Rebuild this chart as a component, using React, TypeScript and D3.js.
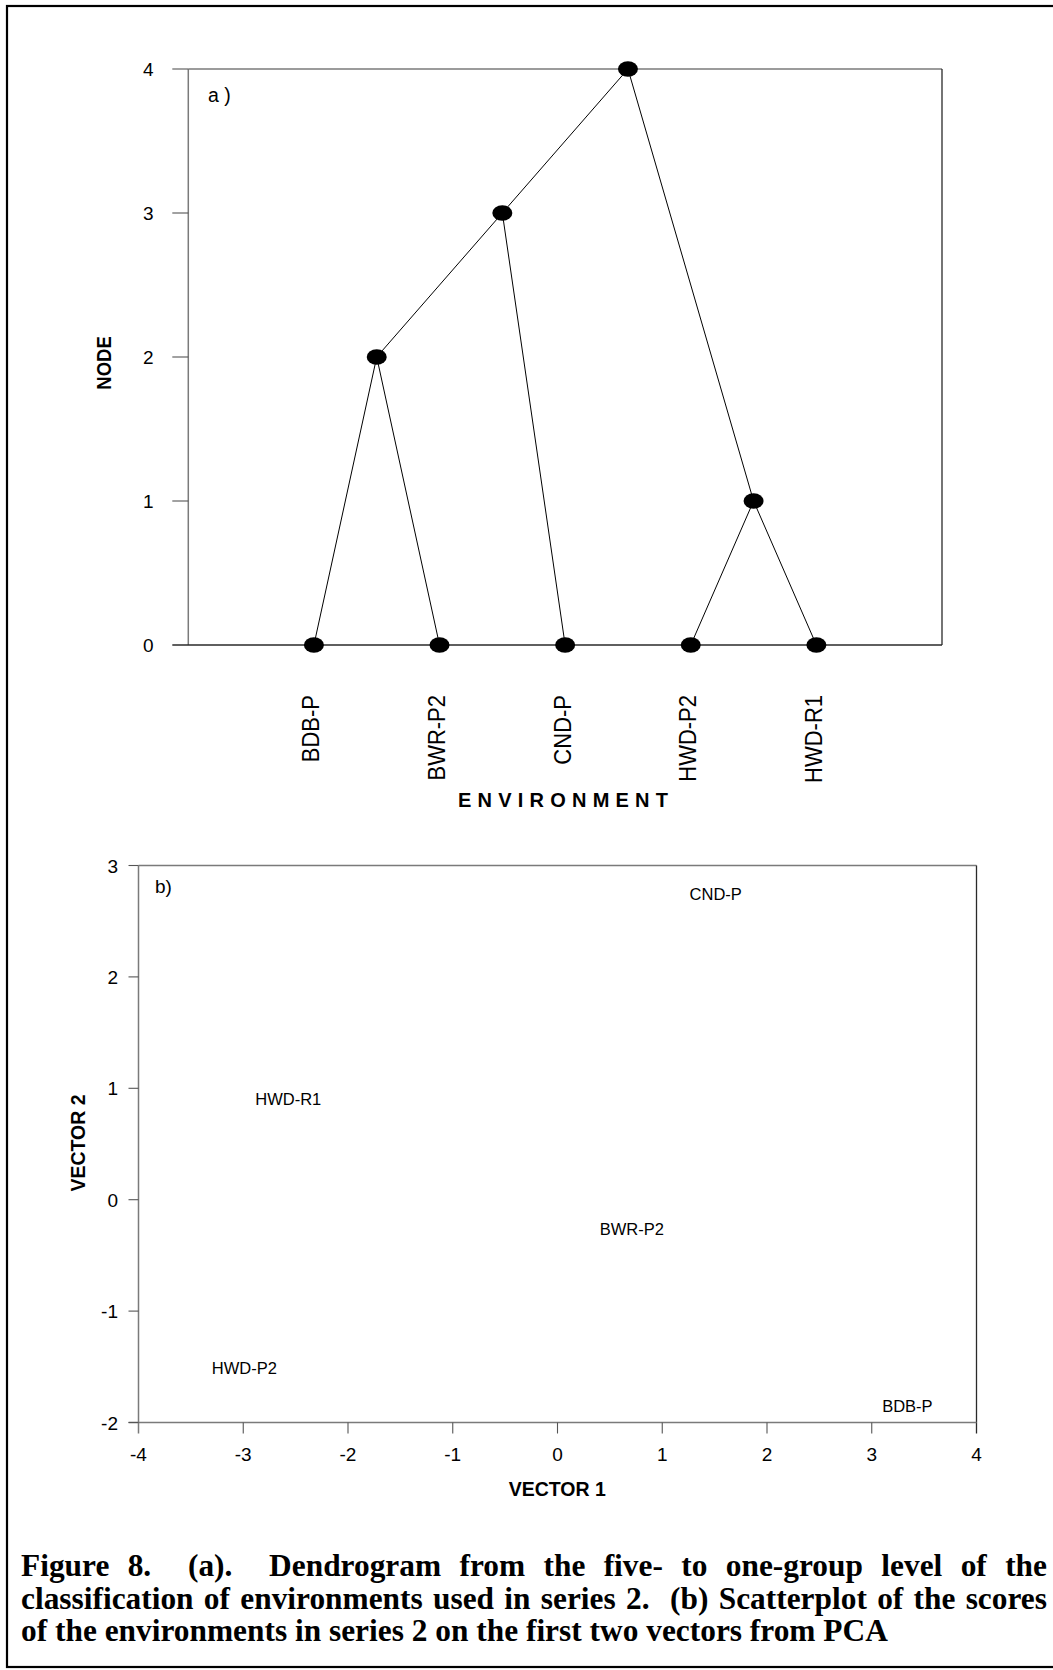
import React, { useEffect, useRef } from "react";
import * as d3 from "d3";

// Dendrogram (panel a): leaves sit on level 0, merge nodes above them
const leafNames = ["BDB-P", "BWR-P2", "CND-P", "HWD-P2", "HWD-R1"];
const leafX = [1, 2, 3, 4, 5];
const nodeNames = ["1", "2", "3", "4"];
const nodeLevel = [1, 2, 3, 4];
const nodeX = [4.5, 1.5, 2.5, 3.5];
const nodeChildren = [
  ["HWD-P2", "HWD-R1"],
  ["BDB-P", "BWR-P2"],
  ["2", "CND-P"],
  ["3", "1"],
];
const nodeTicks = [0, 1, 2, 3, 4];

// PCA scores (panel b)
const pcaNames = ["CND-P", "HWD-R1", "BWR-P2", "HWD-P2", "BDB-P"];
const vector1 = [1.51, -2.57, 0.71, -2.99, 3.34];
const vector2 = [2.74, 0.9, -0.26, -1.51, -1.85];
const vector1Ticks = [-4, -3, -2, -1, 0, 1, 2, 3, 4];
const vector2Ticks = [-2, -1, 0, 1, 2, 3];

const captionLines = [
  "Figure 8.  (a).  Dendrogram from the five- to one-group level of the",
  "classification of environments used in series 2.  (b) Scatterplot of the scores",
  "of the environments in series 2 on the first two vectors from PCA",
];

const SANS = "'Liberation Sans', Arial, sans-serif";
const SERIF = "'Liberation Serif', 'Times New Roman', serif";
const AXIS_GREY = "#7a7a7a";
const FRAME_DARK = "#2a2a2a";

export default function App() {
  const W = 1053;
  const H = 1670;
  const captionRefs = useRef<(SVGTextElement | null)[]>([]);

  const xA = d3.scaleLinear().domain([0, 6]).range([188.3, 942]);
  const yA = d3.scaleLinear().domain([0, 4]).range([645, 69]);
  const xB = d3.scaleLinear().domain([-4, 4]).range([138.5, 976.5]);
  const yB = d3.scaleLinear().domain([-2, 3]).range([1422.5, 865.5]);

  const pos = new Map<string, [number, number]>();
  leafNames.forEach((n, i) => pos.set(n, [xA(leafX[i]), yA(0)]));
  nodeNames.forEach((n, i) => pos.set(n, [xA(nodeX[i]), yA(nodeLevel[i])]));

  const edges: [number, number, number, number][] = [];
  nodeNames.forEach((n, i) => {
    const [px, py] = pos.get(n)!;
    nodeChildren[i].forEach((c) => {
      const [cx, cy] = pos.get(c)!;
      edges.push([px, py, cx, cy]);
    });
  });

  const captionLeft = 21;
  const captionBaselines = [1576, 1608.5, 1641];

  // Caption: fit the last line to its column width and justify lines 1 and 2
  useEffect(() => {
    const els = captionRefs.current;
    if (!els[2]) return;
    const fullWidth = 1026;
    const lastWidth = 867;
    const w3 = els[2]!.getComputedTextLength();
    const k = lastWidth / w3;
    els.forEach((el, i) => {
      if (!el) return;
      el.setAttribute("transform", `translate(${captionLeft},${captionBaselines[i]}) scale(${k},1)`);
      if (i < 2) {
        const natural = el.getComputedTextLength();
        const gaps = (captionLines[i].match(/ /g) || []).length;
        const ws = (fullWidth / k - natural) / gaps;
        el.style.wordSpacing = `${ws}px`;
      }
    });
  }, []);

  const leafLabelY = 695;
  const stretch = 1.12;

  return (
    <svg
      width={W}
      height={H}
      viewBox={`0 0 ${W} ${H}`}
      style={{ position: "absolute", left: 0, top: 0, background: "#fff" }}
    >
      <rect x={0} y={0} width={W} height={H} fill="#fff" />
      {/* page frame */}
      <rect x={7} y={6} width={W + 20} height={1661} fill="none" stroke="#000" strokeWidth={2.2} />

      {/* ---------- panel a ---------- */}
      <line x1={xA(0)} y1={yA(4)} x2={xA(6)} y2={yA(4)} stroke={AXIS_GREY} strokeWidth={1.3} />
      <line x1={xA(6)} y1={yA(4)} x2={xA(6)} y2={yA(0)} stroke={FRAME_DARK} strokeWidth={1.3} />
      <line x1={xA(0)} y1={yA(4)} x2={xA(0)} y2={yA(0)} stroke={AXIS_GREY} strokeWidth={1.5} />
      <line x1={xA(0) - 16} y1={yA(0)} x2={xA(6)} y2={yA(0)} stroke={FRAME_DARK} strokeWidth={1.3} />
      {nodeTicks.map((t) => (
        <g key={`ta${t}`}>
          {t > 0 && (
            <line x1={xA(0) - 16} y1={yA(t)} x2={xA(0)} y2={yA(t)} stroke="#555" strokeWidth={1.1} />
          )}
          <text x={153.5} y={yA(t) + 7} textAnchor="end" fontFamily={SANS} fontSize={19} fill="#000">
            {t}
          </text>
        </g>
      ))}
      <text x={208} y={102} fontFamily={SANS} fontSize={19.5} fill="#000" style={{ whiteSpace: "pre" }}>
        {"a )"}
      </text>

      {edges.map(([x1, y1, x2, y2], i) => (
        <line key={`e${i}`} x1={x1} y1={y1} x2={x2} y2={y2} stroke="#000" strokeWidth={1} />
      ))}
      {Array.from(pos.entries()).map(([n, [cx, cy]]) => (
        <ellipse key={`n${n}`} cx={cx} cy={cy} rx={10} ry={7.8} fill="#000" />
      ))}

      {leafNames.map((n, i) => (
        <text
          key={`ll${n}`}
          transform={`translate(${xA(leafX[i]) + 5.5},${leafLabelY}) scale(${stretch},1) rotate(-90)`}
          textAnchor="end"
          fontFamily={SANS}
          fontSize={22}
          fill="#000"
        >
          {n}
        </text>
      ))}

      <text
        transform={`translate(110.5,${363}) scale(${stretch},1) rotate(-90)`}
        textAnchor="middle"
        fontFamily={SANS}
        fontWeight="bold"
        fontSize={18.5}
        fill="#000"
      >
        NODE
      </text>
      <text
        x={458}
        y={806.5}
        textLength={210}
        lengthAdjust="spacing"
        fontFamily={SANS}
        fontWeight="bold"
        fontSize={20}
        fill="#000"
      >
        ENVIRONMENT
      </text>

      {/* ---------- panel b ---------- */}
      <line x1={xB(-4)} y1={yB(3)} x2={xB(4)} y2={yB(3)} stroke={AXIS_GREY} strokeWidth={1.5} />
      <line x1={xB(4)} y1={yB(3)} x2={xB(4)} y2={yB(-2) + 11} stroke={FRAME_DARK} strokeWidth={1.3} />
      <line x1={xB(-4)} y1={yB(3)} x2={xB(-4)} y2={yB(-2) + 11} stroke={AXIS_GREY} strokeWidth={1.5} />
      <line x1={xB(-4) - 10} y1={yB(-2)} x2={xB(4)} y2={yB(-2)} stroke={AXIS_GREY} strokeWidth={1.5} />
      {vector2Ticks.map((t) => (
        <g key={`tby${t}`}>
          <line x1={xB(-4) - 10} y1={yB(t)} x2={xB(-4)} y2={yB(t)} stroke="#555" strokeWidth={1.1} />
          <text x={118} y={yB(t) + 7} textAnchor="end" fontFamily={SANS} fontSize={19} fill="#000">
            {t}
          </text>
        </g>
      ))}
      {vector1Ticks.map((t) => (
        <g key={`tbx${t}`}>
          {t > -4 && t < 4 && (
            <line x1={xB(t)} y1={yB(-2)} x2={xB(t)} y2={yB(-2) + 11} stroke="#555" strokeWidth={1.1} />
          )}
          <text x={xB(t)} y={1461} textAnchor="middle" fontFamily={SANS} fontSize={19} fill="#000">
            {t}
          </text>
        </g>
      ))}
      <text x={155} y={893} fontFamily={SANS} fontSize={19} fill="#000">
        b)
      </text>

      {pcaNames.map((n, i) => (
        <text
          key={`p${n}`}
          x={xB(vector1[i])}
          y={yB(vector2[i]) + 6}
          textAnchor="middle"
          fontFamily={SANS}
          fontSize={16.5}
          fill="#000"
        >
          {n}
        </text>
      ))}

      <text
        transform={`translate(85,${1143}) rotate(-90)`}
        textAnchor="middle"
        fontFamily={SANS}
        fontWeight="bold"
        fontSize={19.5}
        fill="#000"
      >
        VECTOR 2
      </text>
      <text x={557.3} y={1495.5} textAnchor="middle" fontFamily={SANS} fontWeight="bold" fontSize={19.5} fill="#000">
        VECTOR 1
      </text>

      {/* ---------- caption ---------- */}
      {captionLines.map((line, i) => (
        <text
          key={`c${i}`}
          ref={(el) => {
            captionRefs.current[i] = el;
          }}
          transform={`translate(${captionLeft},${captionBaselines[i]})`}
          fontFamily={SERIF}
          fontWeight="bold"
          fontSize={31}
          fill="#000"
          style={{ whiteSpace: "pre" }}
        >
          {line}
        </text>
      ))}
    </svg>
  );
}
